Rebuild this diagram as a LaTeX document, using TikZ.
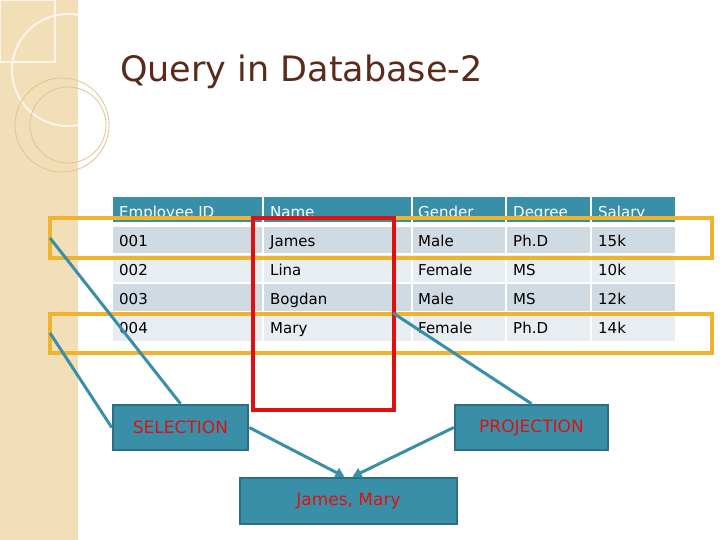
\documentclass[tikz,border=0pt]{standalone}
\usepackage{fontspec}
\setmainfont{DejaVu Sans}
\usetikzlibrary{arrows.meta}
\definecolor{teal1}{HTML}{3A8FA8}
\definecolor{tealdk}{HTML}{2D6E80}
\definecolor{rowA}{HTML}{CFDAE2}
\definecolor{rowB}{HTML}{E8EDF1}
\definecolor{beige}{HTML}{F2DFB8}
\definecolor{ttl}{HTML}{5A2A1A}
\definecolor{ylw}{HTML}{F0B42C}
\definecolor{redb}{HTML}{E01010}
\tikzset{
 hdr/.style={text=white,anchor=base west,inner sep=0pt,font=\fontsize{15}{17}\selectfont},
 cell/.style={anchor=base west,inner sep=0pt,font=\fontsize{15}{17}\selectfont,text=black},
 opbox/.style={draw=tealdk,line width=2.5pt,fill=teal1,text=redb,font=\fontsize{17}{19}\selectfont,inner sep=0pt},
 conn/.style={draw=teal1,line width=3pt},
 arr/.style={conn,-{Triangle[length=9pt,width=10pt]}},
 ybox/.style={draw=ylw,line width=4pt},
}
\begin{document}
\begin{tikzpicture}[x=1pt,y=-1pt]
\fill[white] (0,0) rectangle (720,540);
\useasboundingbox (0,0) rectangle (720,540);
\fill[beige] (0,0) rectangle (78,540);
\draw[white,line width=2pt,opacity=0.7] (68,70) circle (56);
\draw[white,line width=1.5pt,opacity=0.7] (0,0) rectangle (55,62);
\draw[beige!70!brown,line width=0.8pt] (62,125) circle (47);
\draw[beige!70!brown,line width=0.8pt] (68,125) circle (38);
\node[anchor=base west,inner sep=0pt,text=ttl,font=\fontsize{35}{40}\selectfont] (title) at (120,82) {Query in Database-2};
\foreach \x/\w in {113/149,264/147,413/92,507/83,592/83}{
 \fill[teal1] (\x,197) rectangle ++(\w,25);
 \fill[rowA] (\x,227) rectangle ++(\w,26);
 \fill[rowB] (\x,255) rectangle ++(\w,27);
 \fill[rowA] (\x,284) rectangle ++(\w,27);
 \fill[rowB] (\x,313) rectangle ++(\w,28);
}
\foreach \x/\a/\b/\c/\d/\e/\n in {119/Employee ID/001/002/003/004/ca,270/Name/James/Lina/Bogdan/Mary/cb,418/Gender/Male/Female/Male/Female/cc,513/Degree/Ph.D/MS/MS/Ph.D/cd,598/Salary/15k/10k/12k/14k/ce}{
 \node[hdr] (\n-h) at (\x,218) {\a};
 \node[cell] (\n-1) at (\x,246) {\b};
 \node[cell] (\n-2) at (\x,275) {\c};
 \node[cell] (\n-3) at (\x,304) {\d};
 \node[cell] (\n-4) at (\x,333) {\e};
}
\draw[ybox] (50,218) rectangle (712,258);
\draw[ybox] (50,314) rectangle (712,353);
\draw[draw=redb,line width=3.5pt] (253,218) rectangle (394,410);
\coordinate (s1) at (50,238);
\coordinate (s2) at (50,333);
\coordinate (p1) at (393,313);
\node[opbox,minimum width=135pt,minimum height=45pt] (sel) at (180.5,427.5) {SELECTION};
\node[opbox,minimum width=153pt,minimum height=45pt] (proj) at (531.5,427.5) {PROJECTION};
\node[opbox,minimum width=217pt,minimum height=46pt] (res) at (348.5,501) {James, Mary};
\draw[conn] (s1) -- (sel.north);
\draw[conn] (s2) -- (sel.west);
\draw[conn] (p1) -- (proj.north);
\draw[arr] (sel.east) -- ([xshift=-4pt]res.north);
\draw[arr] (proj.west) -- ([xshift=4pt]res.north);
\end{tikzpicture}
\end{document}
